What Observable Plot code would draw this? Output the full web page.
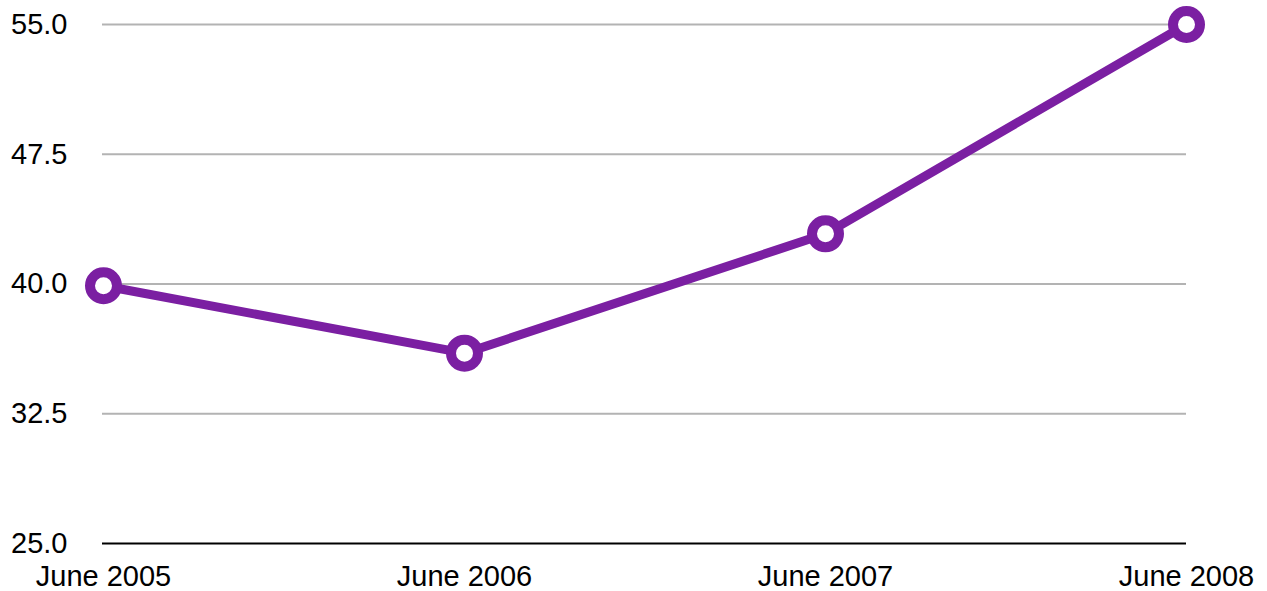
<!DOCTYPE html>
<html>
<head>
<meta charset="utf-8">
<script src="https://cdn.jsdelivr.net/npm/d3@7"></script>
<script src="https://cdn.jsdelivr.net/npm/@observablehq/plot@0.6"></script>
<style>
  html, body { margin: 0; padding: 0; background: #fff; }
  #chart svg { display: block; overflow: visible; }
</style>
</head>
<body>
<div id="chart"></div>
<script>
const categories = ["June 2005", "June 2006", "June 2007", "June 2008"];
const values = [39.9, 36.0, 42.9, 55.0];
const yTicks = [25, 32.5, 40, 47.5, 55];
const gridTicks = [32.5, 40, 47.5, 55];

const data = categories.map((c, i) => ({ date: c, value: values[i] }));

const purple = "#7B1FA2";

const chart = Plot.plot({
  width: 1267,
  height: 591,
  marginLeft: 102,
  marginRight: 81,
  marginTop: 24,
  marginBottom: 48,
  style: { fontFamily: "'Liberation Sans', Arial, Helvetica, sans-serif", fontSize: "29px", color: "#000", background: "#fff" },
  x: { type: "point", domain: categories, padding: 0, label: null },
  y: { domain: [25, 55], label: null },
  marks: [
    Plot.ruleY(gridTicks, { stroke: "#b3b3b3", strokeWidth: 2 }),
    Plot.ruleY([25], { stroke: "#000", strokeWidth: 2 }),
    Plot.axisY({ ticks: yTicks, tickSize: 0, tickPadding: 35, tickFormat: d3.format(".1f"), label: null, fontSize: 29 }),
    Plot.axisX({ tickSize: 0, tickPadding: 22, label: null, fontSize: 29 }),
    Plot.line(data, { x: "date", y: "value", stroke: purple, strokeWidth: 9, strokeLinejoin: "round" }),
    Plot.dot(data, { x: "date", y: "value", r: 13.5, fill: "#fff", stroke: purple, strokeWidth: 10 })
  ]
});

document.getElementById("chart").appendChild(chart);
</script>
</body>
</html>
